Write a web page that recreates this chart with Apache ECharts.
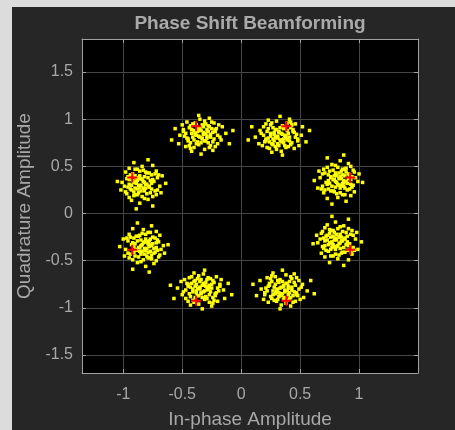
<!DOCTYPE html>
<html><head><meta charset="utf-8">
<script src="https://cdn.jsdelivr.net/npm/echarts@6/dist/echarts.min.js"></script>
<style>html,body{margin:0;padding:0;background:#dcdcdc;width:455px;height:430px;overflow:hidden}
#c{position:absolute;left:12px;top:7px;width:443px;height:423px;}</style></head>
<body><div id="c"></div>
<script>
const clusterA = [[-0.32,0.84],[-0.39,0.86],[-0.26,0.81],[-0.45,0.77],[-0.21,0.90],[-0.36,0.73],[-0.30,0.95],[-0.49,0.87],[-0.17,0.78],[-0.34,0.88],[-0.41,0.81],[-0.24,0.86],[-0.37,0.91],[-0.28,0.75],[-0.43,0.93],[-0.13,0.85],[-0.53,0.74],[-0.31,0.68],[-0.35,1.00],[-0.22,0.71],[-0.46,0.97],[-0.27,0.92],[-0.40,0.70],[-0.19,0.94],[-0.48,0.82],[-0.33,0.79],[-0.38,0.83],[-0.25,0.97],[-0.42,0.89],[-0.29,0.82],[-0.56,0.90],[-0.10,0.74],[-0.34,0.63],[-0.36,1.04],[-0.23,0.79],[-0.44,0.72],[-0.20,0.83],[-0.50,0.94],[-0.28,0.87],[-0.37,0.76],[-0.16,0.92],[-0.39,0.96],[-0.26,0.72],[-0.47,0.85],[-0.32,0.92],[-0.35,0.81],[-0.24,0.67],[-0.42,0.66],[-0.18,0.81],[-0.52,0.83],[-0.30,0.85],[-0.40,0.88],[-0.22,0.89],[-0.45,0.79],[-0.31,0.77],[-0.38,0.94],[-0.07,0.88],[-0.59,0.78],[-0.27,1.01],[-0.43,0.69],
  [-0.33,0.80],[-0.37,0.87],[-0.29,0.89],[-0.40,0.78],[-0.26,0.84],[-0.35,0.90],[-0.30,0.77],[-0.42,0.85],[-0.24,0.76],[-0.38,0.74],[-0.28,0.93],[-0.44,0.91],[-0.32,0.86],[-0.36,0.82],[-0.22,0.87],[-0.46,0.80],[-0.27,0.70],[-0.41,0.95],[-0.34,0.75],[-0.31,0.98],[-0.20,0.74],[-0.49,0.89],[-0.25,0.90],[-0.39,0.84],[-0.33,0.94],[-0.43,0.75],[-0.23,0.96],[-0.47,0.71],[-0.29,0.80],[-0.36,0.88]];
const clusterB = [[0.31,0.82],[0.38,0.80],[0.25,0.85],[0.44,0.89],[0.20,0.76],[0.35,0.93],[0.29,0.71],[0.48,0.79],[0.16,0.88],[0.33,0.78],[0.40,0.85],[0.23,0.80],[0.36,0.75],[0.27,0.91],[0.42,0.73],[0.12,0.81],[0.52,0.92],[0.30,0.98],[0.34,0.66],[0.21,0.95],[0.45,0.69],[0.26,0.74],[0.39,0.96],[0.18,0.72],[0.47,0.84],[0.32,0.87],[0.37,0.83],[0.24,0.69],[0.41,0.77],[0.28,0.84],[0.55,0.76],[0.09,0.92],[0.33,1.03],[0.35,0.62],[0.22,0.87],[0.43,0.94],[0.19,0.83],[0.49,0.72],[0.27,0.79],[0.36,0.90],[0.15,0.74],[0.38,0.70],[0.25,0.94],[0.46,0.81],[0.31,0.74],[0.34,0.85],[0.23,0.99],[0.41,1.00],[0.17,0.85],[0.51,0.83],[0.29,0.81],[0.39,0.78],[0.21,0.77],[0.44,0.87],[0.30,0.89],[0.37,0.72],[0.06,0.78],[0.58,0.88],[0.26,0.65],[0.42,0.97],
  [0.32,0.86],[0.36,0.79],[0.28,0.77],[0.39,0.88],[0.25,0.82],[0.34,0.76],[0.29,0.89],[0.41,0.81],[0.23,0.90],[0.37,0.92],[0.27,0.73],[0.43,0.75],[0.31,0.80],[0.35,0.84],[0.21,0.79],[0.45,0.86],[0.26,0.96],[0.40,0.71],[0.33,0.91],[0.30,0.68],[0.19,0.92],[0.48,0.77],[0.24,0.76],[0.38,0.82],[0.32,0.72],[0.42,0.91],[0.22,0.70],[0.46,0.95],[0.28,0.86],[0.35,0.78]];
const clusterC = [[0.83,0.37],[0.85,0.30],[0.80,0.43],[0.76,0.24],[0.89,0.48],[0.72,0.33],[0.94,0.39],[0.86,0.20],[0.77,0.52],[0.87,0.35],[0.80,0.28],[0.85,0.45],[0.90,0.32],[0.74,0.41],[0.92,0.26],[0.84,0.56],[0.73,0.16],[0.67,0.38],[0.99,0.34],[0.70,0.47],[0.96,0.23],[0.91,0.42],[0.69,0.29],[0.93,0.50],[0.81,0.21],[0.78,0.36],[0.82,0.31],[0.96,0.44],[0.88,0.27],[0.81,0.40],[0.89,0.13],[0.73,0.59],[0.62,0.35],[1.03,0.33],[0.78,0.46],[0.71,0.25],[0.82,0.49],[0.93,0.19],[0.86,0.41],[0.75,0.32],[0.91,0.53],[0.95,0.30],[0.71,0.43],[0.84,0.22],[0.91,0.37],[0.80,0.34],[0.66,0.45],[0.65,0.27],[0.80,0.51],[0.82,0.17],[0.84,0.39],[0.87,0.29],[0.88,0.47],[0.78,0.24],[0.76,0.38],[0.93,0.31],[0.87,0.62],[0.77,0.10],[1.00,0.42],[0.68,0.26],
  [0.79,0.36],[0.86,0.32],[0.88,0.40],[0.77,0.29],[0.83,0.43],[0.89,0.34],[0.76,0.39],[0.84,0.27],[0.75,0.45],[0.73,0.31],[0.92,0.41],[0.90,0.25],[0.85,0.37],[0.81,0.33],[0.86,0.47],[0.79,0.23],[0.69,0.42],[0.94,0.28],[0.74,0.35],[0.97,0.38],[0.73,0.49],[0.88,0.20],[0.89,0.44],[0.83,0.30],[0.93,0.36],[0.74,0.26],[0.95,0.46],[0.70,0.22],[0.79,0.40],[0.87,0.33]];
const clusterD = [[0.81,-0.28],[0.79,-0.35],[0.84,-0.22],[0.88,-0.41],[0.75,-0.17],[0.92,-0.32],[0.70,-0.26],[0.78,-0.45],[0.87,-0.13],[0.77,-0.30],[0.84,-0.37],[0.79,-0.20],[0.74,-0.33],[0.90,-0.24],[0.72,-0.39],[0.80,-0.09],[0.91,-0.49],[0.97,-0.27],[0.65,-0.31],[0.94,-0.18],[0.68,-0.42],[0.73,-0.23],[0.95,-0.36],[0.71,-0.15],[0.83,-0.44],[0.86,-0.29],[0.82,-0.34],[0.68,-0.21],[0.76,-0.38],[0.83,-0.25],[0.75,-0.52],[0.91,-0.06],[1.02,-0.30],[0.61,-0.32],[0.86,-0.19],[0.93,-0.40],[0.82,-0.16],[0.71,-0.46],[0.78,-0.24],[0.89,-0.33],[0.73,-0.12],[0.69,-0.35],[0.93,-0.22],[0.80,-0.43],[0.73,-0.28],[0.84,-0.31],[0.98,-0.20],[0.99,-0.38],[0.84,-0.14],[0.82,-0.48],[0.80,-0.26],[0.77,-0.36],[0.76,-0.18],[0.86,-0.41],[0.88,-0.27],[0.71,-0.34],[0.77,-0.03],[0.87,-0.55],[0.64,-0.23],[0.96,-0.39],
  [0.85,-0.29],[0.78,-0.33],[0.76,-0.25],[0.87,-0.36],[0.81,-0.22],[0.75,-0.31],[0.88,-0.26],[0.80,-0.38],[0.89,-0.20],[0.91,-0.34],[0.72,-0.24],[0.74,-0.40],[0.79,-0.28],[0.83,-0.32],[0.78,-0.18],[0.85,-0.42],[0.95,-0.23],[0.70,-0.37],[0.90,-0.30],[0.67,-0.27],[0.91,-0.16],[0.76,-0.45],[0.75,-0.21],[0.81,-0.35],[0.71,-0.29],[0.90,-0.39],[0.69,-0.19],[0.94,-0.43],[0.85,-0.25],[0.77,-0.32]];
const clusterE = [[0.37,-0.81],[0.30,-0.83],[0.43,-0.78],[0.24,-0.74],[0.48,-0.87],[0.33,-0.70],[0.39,-0.92],[0.20,-0.84],[0.52,-0.75],[0.35,-0.85],[0.28,-0.78],[0.45,-0.83],[0.32,-0.88],[0.41,-0.72],[0.26,-0.90],[0.56,-0.82],[0.16,-0.71],[0.38,-0.65],[0.34,-0.97],[0.47,-0.68],[0.23,-0.94],[0.42,-0.89],[0.29,-0.67],[0.50,-0.91],[0.21,-0.79],[0.36,-0.76],[0.31,-0.80],[0.44,-0.94],[0.27,-0.86],[0.40,-0.79],[0.13,-0.87],[0.59,-0.71],[0.35,-0.60],[0.33,-1.01],[0.46,-0.76],[0.25,-0.69],[0.49,-0.80],[0.19,-0.91],[0.41,-0.84],[0.32,-0.73],[0.53,-0.89],[0.30,-0.93],[0.43,-0.69],[0.22,-0.82],[0.37,-0.89],[0.34,-0.78],[0.45,-0.64],[0.27,-0.63],[0.51,-0.78],[0.17,-0.80],[0.39,-0.82],[0.29,-0.85],[0.47,-0.86],[0.24,-0.76],[0.38,-0.74],[0.31,-0.91],[0.62,-0.85],[0.10,-0.75],[0.42,-0.98],[0.26,-0.66],
  [0.36,-0.77],[0.32,-0.84],[0.40,-0.86],[0.29,-0.75],[0.43,-0.81],[0.34,-0.87],[0.39,-0.74],[0.27,-0.82],[0.45,-0.73],[0.31,-0.71],[0.41,-0.90],[0.25,-0.88],[0.37,-0.83],[0.33,-0.79],[0.47,-0.84],[0.23,-0.77],[0.42,-0.67],[0.28,-0.92],[0.35,-0.72],[0.38,-0.95],[0.49,-0.71],[0.20,-0.86],[0.44,-0.87],[0.30,-0.81],[0.36,-0.91],[0.26,-0.72],[0.46,-0.93],[0.22,-0.68],[0.40,-0.77],[0.33,-0.85]];
const clusterF = [[-0.35,-0.80],[-0.28,-0.78],[-0.41,-0.83],[-0.22,-0.87],[-0.46,-0.74],[-0.31,-0.91],[-0.37,-0.69],[-0.18,-0.77],[-0.50,-0.86],[-0.33,-0.76],[-0.26,-0.83],[-0.43,-0.78],[-0.30,-0.73],[-0.39,-0.89],[-0.24,-0.71],[-0.54,-0.79],[-0.14,-0.90],[-0.36,-0.96],[-0.32,-0.64],[-0.45,-0.93],[-0.21,-0.67],[-0.40,-0.72],[-0.27,-0.94],[-0.48,-0.70],[-0.19,-0.82],[-0.34,-0.85],[-0.29,-0.81],[-0.42,-0.67],[-0.25,-0.75],[-0.38,-0.82],[-0.11,-0.74],[-0.57,-0.90],[-0.33,-1.01],[-0.31,-0.60],[-0.44,-0.85],[-0.23,-0.92],[-0.47,-0.81],[-0.17,-0.70],[-0.39,-0.77],[-0.30,-0.88],[-0.51,-0.72],[-0.28,-0.68],[-0.41,-0.92],[-0.20,-0.79],[-0.35,-0.72],[-0.32,-0.83],[-0.43,-0.97],[-0.25,-0.98],[-0.49,-0.83],[-0.15,-0.81],[-0.37,-0.79],[-0.27,-0.76],[-0.45,-0.75],[-0.22,-0.85],[-0.36,-0.87],[-0.29,-0.70],[-0.60,-0.76],[-0.08,-0.86],[-0.40,-0.63],[-0.24,-0.95],
  [-0.34,-0.84],[-0.30,-0.77],[-0.38,-0.75],[-0.27,-0.86],[-0.41,-0.80],[-0.32,-0.74],[-0.37,-0.87],[-0.25,-0.79],[-0.43,-0.88],[-0.29,-0.90],[-0.39,-0.71],[-0.23,-0.73],[-0.35,-0.78],[-0.31,-0.82],[-0.45,-0.77],[-0.21,-0.84],[-0.40,-0.94],[-0.26,-0.69],[-0.33,-0.89],[-0.36,-0.66],[-0.47,-0.90],[-0.18,-0.75],[-0.42,-0.74],[-0.28,-0.80],[-0.34,-0.70],[-0.24,-0.89],[-0.44,-0.68],[-0.20,-0.93],[-0.38,-0.84],[-0.31,-0.76]];
const clusterG = [[-0.85,0.30],[-0.87,0.37],[-0.82,0.24],[-0.78,0.43],[-0.91,0.19],[-0.74,0.34],[-0.96,0.28],[-0.88,0.47],[-0.79,0.15],[-0.89,0.32],[-0.82,0.39],[-0.87,0.22],[-0.92,0.35],[-0.76,0.26],[-0.94,0.41],[-0.86,0.11],[-0.75,0.51],[-0.69,0.29],[-1.01,0.33],[-0.72,0.20],[-0.98,0.44],[-0.93,0.25],[-0.71,0.38],[-0.95,0.17],[-0.83,0.46],[-0.80,0.31],[-0.84,0.36],[-0.98,0.23],[-0.90,0.40],[-0.83,0.27],[-0.91,0.54],[-0.75,0.08],[-0.64,0.32],[-1.05,0.34],[-0.80,0.21],[-0.73,0.42],[-0.84,0.18],[-0.95,0.48],[-0.88,0.26],[-0.77,0.35],[-0.93,0.14],[-0.97,0.37],[-0.73,0.24],[-0.86,0.45],[-0.93,0.30],[-0.82,0.33],[-0.68,0.22],[-0.67,0.40],[-0.82,0.16],[-0.84,0.50],[-0.86,0.28],[-0.89,0.38],[-0.90,0.20],[-0.80,0.43],[-0.78,0.29],[-0.95,0.36],[-0.89,0.05],[-0.79,0.57],[-1.02,0.25],[-0.70,0.41],
  [-0.81,0.31],[-0.88,0.35],[-0.90,0.27],[-0.79,0.38],[-0.85,0.24],[-0.91,0.33],[-0.78,0.28],[-0.86,0.40],[-0.77,0.22],[-0.75,0.36],[-0.94,0.26],[-0.92,0.42],[-0.87,0.30],[-0.83,0.34],[-0.88,0.20],[-0.81,0.44],[-0.71,0.25],[-0.96,0.39],[-0.76,0.32],[-0.99,0.29],[-0.75,0.18],[-0.90,0.47],[-0.91,0.23],[-0.85,0.37],[-0.95,0.31],[-0.76,0.41],[-0.97,0.21],[-0.72,0.45],[-0.81,0.27],[-0.89,0.34]];
const clusterH = [[-0.82,-0.37],[-0.80,-0.30],[-0.85,-0.43],[-0.89,-0.24],[-0.76,-0.48],[-0.93,-0.33],[-0.71,-0.39],[-0.79,-0.20],[-0.88,-0.52],[-0.78,-0.35],[-0.85,-0.28],[-0.80,-0.45],[-0.75,-0.32],[-0.91,-0.41],[-0.73,-0.26],[-0.81,-0.56],[-0.92,-0.16],[-0.98,-0.38],[-0.66,-0.34],[-0.95,-0.47],[-0.69,-0.23],[-0.74,-0.42],[-0.96,-0.29],[-0.72,-0.50],[-0.84,-0.21],[-0.87,-0.36],[-0.83,-0.31],[-0.69,-0.44],[-0.77,-0.27],[-0.84,-0.40],[-0.76,-0.13],[-0.92,-0.59],[-1.03,-0.35],[-0.62,-0.33],[-0.87,-0.46],[-0.94,-0.25],[-0.83,-0.49],[-0.72,-0.19],[-0.79,-0.41],[-0.90,-0.32],[-0.74,-0.53],[-0.70,-0.30],[-0.94,-0.43],[-0.81,-0.22],[-0.74,-0.37],[-0.85,-0.34],[-0.99,-0.45],[-1.00,-0.27],[-0.85,-0.51],[-0.83,-0.17],[-0.81,-0.39],[-0.78,-0.29],[-0.77,-0.47],[-0.87,-0.24],[-0.89,-0.38],[-0.72,-0.31],[-0.78,-0.62],[-0.88,-0.10],[-0.65,-0.42],[-0.97,-0.26],
  [-0.86,-0.36],[-0.79,-0.32],[-0.77,-0.40],[-0.88,-0.29],[-0.82,-0.43],[-0.76,-0.34],[-0.89,-0.39],[-0.81,-0.27],[-0.90,-0.45],[-0.92,-0.31],[-0.73,-0.41],[-0.75,-0.25],[-0.80,-0.37],[-0.84,-0.33],[-0.79,-0.47],[-0.86,-0.23],[-0.96,-0.42],[-0.71,-0.28],[-0.91,-0.35],[-0.68,-0.38],[-0.92,-0.49],[-0.77,-0.20],[-0.76,-0.44],[-0.82,-0.30],[-0.72,-0.36],[-0.91,-0.26],[-0.70,-0.46],[-0.95,-0.22],[-0.86,-0.40],[-0.78,-0.33]];
const idealPoints = [[0.924,0.383],[0.383,0.924],[-0.383,0.924],[-0.924,0.383],[-0.924,-0.383],[-0.383,-0.924],[0.383,-0.924],[0.924,-0.383]];
const xTicks = [-1,-0.5,0,0.5,1];
const yTicks = [-1.5,-1,-0.5,0,0.5,1,1.5];

const received = [].concat(clusterA,clusterB,clusterC,clusterD,clusterE,clusterF,clusterG,clusterH);
const font = "'Liberation Sans', Arial, Helvetica, sans-serif";
const axisColor = '#a0a0a0';
const labelColor = '#a8a8a8';
const gridColor = '#454545';
const chart = echarts.init(document.getElementById('c'), null, {renderer:'canvas'});

function mkX(pos, main){
  return {
    type:'value', position:pos, min:-1.35, max:1.5,
    axisLine:{show:true, onZero:false, lineStyle:{color:axisColor, width:1}},
    axisTick:{show:true, inside:true, length:4, customValues:xTicks, lineStyle:{color:axisColor}},
    axisLabel:{show:main, customValues:xTicks, color:labelColor, fontSize:16, margin:14, fontFamily:font},
    splitLine:{show:main, lineStyle:{color:gridColor, width:1}},
    name: main ? 'In-phase Amplitude' : '', nameLocation:'middle', nameGap:37,
    nameTextStyle:{color:labelColor, fontSize:19, fontFamily:font}
  };
}
function mkY(pos, main){
  return {
    type:'value', position:pos, min:-1.69, max:1.85,
    axisLine:{show:true, onZero:false, lineStyle:{color:axisColor, width:1}},
    axisTick:{show:true, inside:true, length:4, customValues:yTicks, lineStyle:{color:axisColor}},
    axisLabel:{show:main, customValues:yTicks, color:labelColor, fontSize:16, margin:9, fontFamily:font, padding:[8,0,0,0]},
    splitLine:{show:main, lineStyle:{color:gridColor, width:1}},
    name: main ? 'Quadrature Amplitude' : '', nameLocation:'middle', nameGap:46,
    nameTextStyle:{color:labelColor, fontSize:19, fontFamily:font}
  };
}

chart.setOption({
  backgroundColor:'#262626',
  animation:false,
  graphic:[{type:'text', x:238, y:17, z:10,
    style:{text:'Phase Shift Beamforming', fill:'#aaaaaa', font:"bold 19px 'Liberation Sans', Arial, sans-serif", align:'center', verticalAlign:'middle'}}],
  grid:{left:70, top:32, width:336, height:334, show:true, backgroundColor:'#000000', borderWidth:0, containLabel:false, outerBoundsMode:'none'},
  xAxis:[mkX('bottom', true), mkX('top', false)],
  yAxis:[mkY('left', true), mkY('right', false)],
  series:[
    {type:'scatter', xAxisIndex:0, yAxisIndex:0, data:received, symbol:'rect', symbolSize:3.5,
     itemStyle:{color:'#ffff00', opacity:1}, silent:true},
    {type:'scatter', xAxisIndex:0, yAxisIndex:0, data:idealPoints, symbol:'path://M4,0H6V4H10V6H6V10H4V6H0V4H4Z', symbolSize:10,
     itemStyle:{color:'#ff0000', opacity:1}, silent:true, z:5}
  ]
});
</script></body></html>
